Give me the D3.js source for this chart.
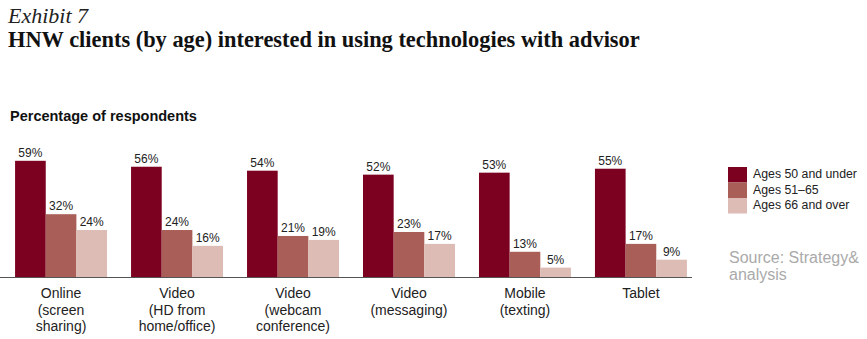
<!DOCTYPE html>
<html>
<head>
<meta charset="utf-8">
<script src="https://cdn.jsdelivr.net/npm/d3@7"></script>
<style>
  body { margin: 0; background: #fff; }
  svg { display: block; }
</style>
</head>
<body>
<svg id="chart" width="867" height="339"></svg>
<script>
const categories = [
  ["Online", "(screen", "sharing)"],
  ["Video", "(HD from", "home/office)"],
  ["Video", "(webcam", "conference)"],
  ["Video", "(messaging)"],
  ["Mobile", "(texting)"],
  ["Tablet"]
];
const seriesNames = ["Ages 50 and under", "Ages 51\u201365", "Ages 66 and over"];
const ages50Under = [59, 56, 54, 52, 53, 55];
const ages51to65 = [32, 24, 21, 23, 13, 17];
const ages66Over = [24, 16, 19, 17, 5, 9];
const colors = ["#7c0020", "#a95e57", "#ddbcb5"];

const series = [ages50Under, ages51to65, ages66Over];
const svg = d3.select("#chart");
const sans = "'Liberation Sans', Arial, sans-serif";

// Titles
svg.append("text").attr("x", 8).attr("y", 23)
  .attr("font-family", "'Liberation Serif', 'DejaVu Serif', serif")
  .attr("font-style", "italic").attr("font-size", 22).attr("fill", "#222")
  .text("Exhibit 7");
const title = svg.append("text").attr("x", 8).attr("y", 47)
  .attr("font-family", "'Liberation Serif', 'DejaVu Serif', serif")
  .attr("font-weight", "bold").attr("font-size", 22).attr("fill", "#111")
  .text("HNW clients (by age) interested in using technologies with advisor");
{
  const w = title.node().getComputedTextLength();
  title.attr("font-size", 22 * 632 / w);
}
svg.append("text").attr("x", 10).attr("y", 121)
  .attr("font-family", sans)
  .attr("font-weight", "bold").attr("font-size", 14.5).attr("fill", "#111")
  .text("Percentage of respondents");

const baseY = 277.5;
const x0 = d3.scaleBand().domain(d3.range(categories.length))
  .range([0, 702]).paddingInner(0.207).paddingOuter(0.13);
const x1 = d3.scaleBand().domain(d3.range(series.length)).range([0, x0.bandwidth()]);
const y = d3.scaleLinear().domain([0, 59]).range([baseY, baseY - 116.7]);

const groups = svg.append("g").selectAll("g").data(categories).join("g")
  .attr("transform", (d, i) => `translate(${x0(i)},0)`);

series.forEach((vals, s) => {
  groups.append("rect")
    .attr("x", x1(s))
    .attr("width", x1.bandwidth())
    .attr("y", (d, i) => y(vals[i]))
    .attr("height", (d, i) => baseY - y(vals[i]))
    .attr("fill", colors[s]);
  groups.append("text")
    .attr("x", x1(s) + x1.bandwidth() / 2)
    .attr("y", (d, i) => y(vals[i]) - 4)
    .attr("text-anchor", "middle")
    .attr("font-family", sans)
    .attr("font-size", 12).attr("fill", "#222")
    .text((d, i) => vals[i] + "%");
});

// Axis line
svg.append("line").attr("x1", 0).attr("x2", 692)
  .attr("y1", baseY).attr("y2", baseY)
  .attr("stroke", "#555").attr("stroke-width", 1.2);

// Category labels
groups.append("text")
  .attr("x", x0.bandwidth() / 2)
  .attr("text-anchor", "middle")
  .attr("font-family", sans)
  .attr("font-size", 14).attr("fill", "#222")
  .each(function(d) {
    d3.select(this).selectAll("tspan").data(d).join("tspan")
      .attr("x", x0.bandwidth() / 2)
      .attr("y", (t, j) => 298 + j * 16.5)
      .text(t => t);
  });

// Legend
const lg = svg.append("g").attr("transform", "translate(728,167)");
seriesNames.forEach((n, i) => {
  lg.append("rect").attr("x", 0).attr("y", i * 15.5).attr("width", 19).attr("height", 15.5)
    .attr("fill", colors[i]);
  lg.append("text").attr("x", 25).attr("y", i * 15.5 + 11)
    .attr("font-family", sans)
    .attr("font-size", 12.3).attr("fill", "#222").text(n);
});

// Source
const src = svg.append("text").attr("font-family", sans)
  .attr("font-size", 16).attr("fill", "#aaa");
src.append("tspan").attr("x", 729).attr("y", 263).text("Source: Strategy&");
src.append("tspan").attr("x", 729).attr("y", 280).text("analysis");
</script>
</body>
</html>
